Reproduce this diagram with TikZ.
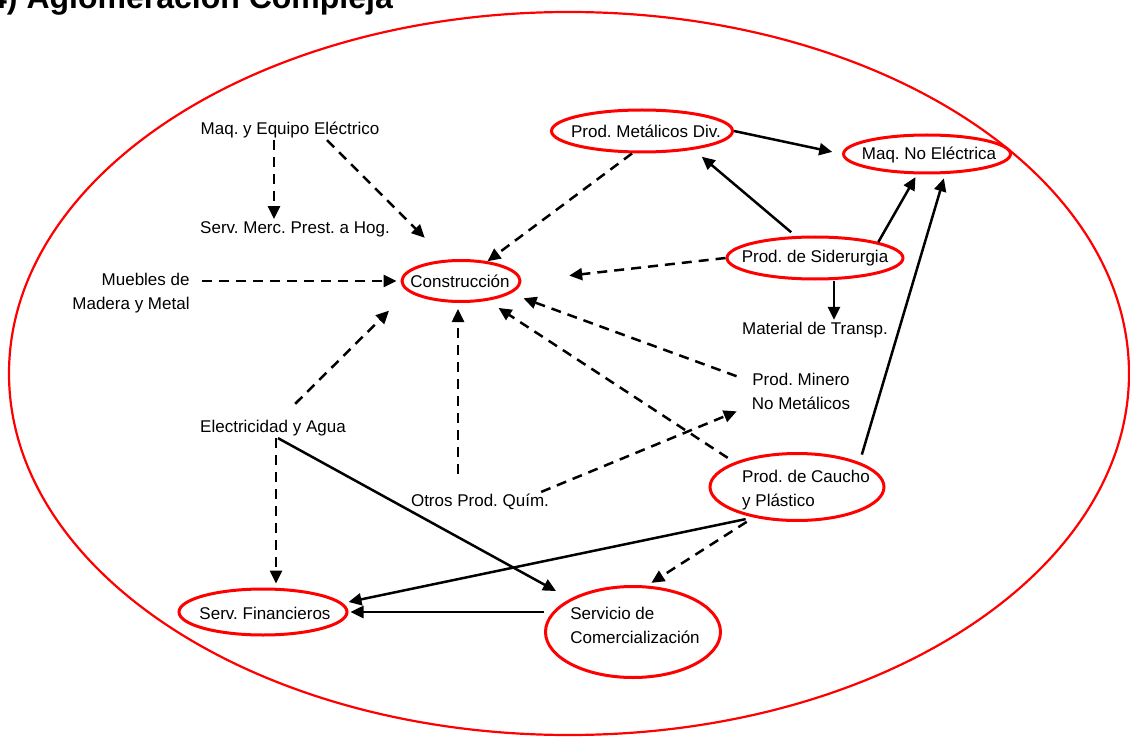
\documentclass[tikz,border=0pt]{standalone}
\usepackage{fontspec}
\setmainfont{Liberation Sans}
\usetikzlibrary{shapes.geometric,arrows.meta}
\frenchspacing

\begin{document}
\begin{tikzpicture}[x=1pt,y=-1pt,
every node/.style={
font=\fontsize{17}{24}\selectfont,
inner sep=2pt,
},
sector/.style={
ellipse,
draw=red,
line width=3pt,
},
link/.style={
-{Triangle[length=13pt,width=12pt]},
line width=2.5pt,
},
dlink/.style={
link,
dash pattern=on 10pt off 7pt,
}]

\useasboundingbox (0,0) rectangle (1130,738);

%title, cut at the top
\node[anchor=base west,inner sep=0pt,font=\fontsize{32}{32}\selectfont\bfseries] (titulo) at (-11,9) {4) Aglomeración Compleja};

%outer ellipse
\node[sector,line width=2.2pt,minimum width=1120,minimum height=723] (aglom) at (569,373.5) {};

%sector ellipses
\node[sector,minimum width=118,minimum height=41] (constr) at (461,281) {};
\node[sector,minimum width=181,minimum height=42] (metdiv) at (642,131) {};
\node[sector,minimum width=167,minimum height=38] (maqne) at (927,154) {};
\node[sector,minimum width=176,minimum height=42] (sider) at (815,258) {};
\node[sector,minimum width=174,minimum height=67] (caucho) at (797,487) {};
\node[sector,minimum width=168,minimum height=46] (servfin) at (263,612) {};
\node[sector,minimum width=175,minimum height=91] (servcom) at (633,632) {};

%texts
\node (constr-t) at (460,281) {Construcción};
\node (metdiv-t) at (646,131) {Prod. Metálicos Div.};
\node (maqne-t) at (929,155) {Maq. No Eléctrica};
\node (sider-t) at (815,258) {Prod. de Siderurgia};
\node[align=left] (caucho-t) at (806,490) {Prod. de Caucho\\y Plástico};
\node (servfin-t) at (265,613) {Serv. Financieros};
\node[align=left] (servcom-t) at (635,625) {Servicio de\\Comercialización};
\node (maqeq) at (290,130) {Maq. y Equipo Eléctrico};
\node (servmerc) at (295,229) {Serv. Merc. Prest. a Hog.};
\node[align=right] (muebles) at (131,293) {Muebles de\\Madera y Metal};
\node (matt) at (815,330) {Material de Transp.};
\node[align=center] (minero) at (801,391) {Prod. Minero\\No Metálicos};
\node (elec) at (273,428) {Electricidad y Agua};
\node (otros) at (480,502) {Otros Prod. Quím.};

%connectors
\draw[dlink] ([xshift=-16]maqeq.south) -- ([xshift=-21]servmerc.north);
\draw[dlink,shorten >=30] ([xshift=37]maqeq.south) -- ([xshift=-15]constr.north);
\draw[dlink] ([xshift=-10]metdiv.south) -- (constr);
\draw[link,shorten >=10] (metdiv.east) -- (maqne.west);
\draw[link,shorten <=5,shorten >=5] ([xshift=-20]sider.north) -- ([xshift=56]metdiv.south);
\draw[link,shorten >=3] (sider.north east) -- ([xshift=-10]maqne.south);
\draw[dlink,shorten >=48] (sider.west) -- (constr.east);
\draw[link] ([xshift=19]sider.south) -- ([xshift=19]matt.north);
\draw[dlink,shorten <=10,shorten >=4] (muebles.east |- constr.west) -- (constr.west);
\draw[dlink,shorten <=20,shorten >=20] ([xshift=8]elec.north) -- ([xshift=-15]constr.south west);
\draw[dlink,shorten <=18,shorten >=6] ([xshift=-22]otros.north) -- ([xshift=-3]constr.south);
\draw[dlink,shorten <=14,shorten >=5] ([yshift=10]minero.west) -- ([xshift=15]constr.south east);
\draw[dlink,shorten <=8,shorten >=9] (caucho.north west) -- ([xshift=30]constr.south);
\draw[dlink,shorten >=14] ([xshift=-10]otros.north east) -- ([yshift=-15]minero.west);
\draw[link,shorten <=8,shorten >=4] (caucho.north east) -- ([xshift=18]maqne.south);
\draw[dlink,shorten >=4] ([xshift=3]elec.south) -- ([xshift=13]servfin.north);
\draw[link,shorten >=16] ([xshift=5]elec.south) -- (servcom.north west);
\draw[link,shorten <=8] (caucho.215) -- ([yshift=10]servfin.east);
\draw[dlink,shorten <=8,shorten >=4] (caucho.215) -- ([xshift=15]servcom.north);
\draw[link,shorten >=2] ([yshift=20]servcom.west) -- (servfin.east);
\end{tikzpicture}
\end{document}
